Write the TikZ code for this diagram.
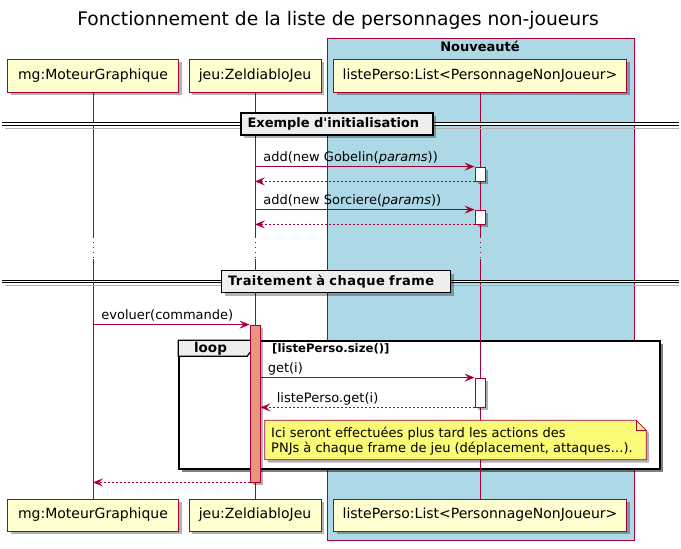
\documentclass[tikz,border=0pt]{standalone}
\usepackage{fontspec}
\setmainfont{DejaVu Sans}
\usetikzlibrary{arrows.meta,shadows,calc}
\definecolor{pumlred}{HTML}{A80036}
\definecolor{pumlyellow}{HTML}{FEFECE}
\definecolor{pumlblue}{HTML}{ADD8E6}
\definecolor{pumlnote}{HTML}{FBFB77}
\definecolor{pumlgray}{HTML}{EEEEEE}
\definecolor{pumlsalmon}{HTML}{E9967A}
\tikzset{
  shad/.style={drop shadow={shadow xshift=3pt,shadow yshift=-3pt,opacity=0.3,fill=black}},
  part/.style={draw=pumlred, fill=pumlyellow, line width=0.9pt, minimum height=33pt, inner sep=0pt,
    font=\fontsize{14}{16}\selectfont, shad},
  life/.style={draw=pumlred, line width=0.8pt},
  delay/.style={draw=pumlred, line width=0.8pt, dash pattern=on 1pt off 4pt},
  msg/.style={draw=pumlred, line width=0.8pt, -{Stealth[length=10pt,width=8pt,inset=4pt]}},
  ret/.style={msg, dash pattern=on 2pt off 2pt},
  lbl/.style={font=\fontsize{13}{15}\selectfont, anchor=base west, inner sep=0pt},
  act/.style={draw=pumlred, fill=white, line width=0.8pt, minimum width=10pt, inner sep=0pt, shad},
  sepbox/.style={draw=black, fill=pumlgray, line width=1.3pt, minimum height=22pt, inner xsep=6.5pt, inner ysep=0pt,
    align=left, font=\bfseries\fontsize{13}{15}\selectfont, shad},
  sepline/.style={draw=black, line width=0.9pt, double=white, double distance=1.8pt},
}
\begin{document}
\begin{tikzpicture}[x=1pt,y=-1pt]
\useasboundingbox (0,0) rectangle (681,549);
\fill[white] (0,0) rectangle (681,549);
% title
\node[font=\fontsize{18.7}{21}\selectfont] (title) at (338,20) {Fonctionnement de la liste de personnages non-joueurs};
% box
\draw[pumlred, fill=pumlblue, line width=0.9pt] (327,38) rectangle (634,540);
\node[font=\bfseries\fontsize{13}{15}\selectfont] (boxlbl) at (480,46) {Nouveauté};
% loop frame background
\node[draw=black, fill=white, line width=1.6pt, minimum width=481pt, minimum height=128pt, inner sep=0pt,
  drop shadow={shadow xshift=3pt,shadow yshift=-3pt,opacity=0.5,fill=black}] (loopF) at (419.5,405) {};
% participants
\node[part, minimum width=171pt] (mgT) at (93,75.5) {mg:MoteurGraphique};
\node[part, minimum width=132pt] (jeuT) at (255,75.5) {jeu:ZeldiabloJeu};
\node[part, minimum width=293pt] (lstT) at (480,75.5) {listePerso:List<PersonnageNonJoueur>};
\node[part, minimum width=171pt, minimum height=32pt] (mgB) at (93,515) {mg:MoteurGraphique};
\node[part, minimum width=132pt, minimum height=32pt] (jeuB) at (255,515) {jeu:ZeldiabloJeu};
\node[part, minimum width=293pt, minimum height=32pt] (lstB) at (480,515) {listePerso:List<PersonnageNonJoueur>};
% delay coordinates
\coordinate (mgd1) at (93,237); \coordinate (mgd2) at (93,259);
\coordinate (jeud1) at (255,237); \coordinate (jeud2) at (255,259);
\coordinate (lstd1) at (480,237); \coordinate (lstd2) at (480,259);
% lifelines
\draw[life] (mgT.south) -- (mgd1); \draw[delay] (mgd1) -- (mgd2); \draw[life] (mgd2) -- (mgB.north);
\draw[life] (jeuT.south) -- (jeud1); \draw[delay] (jeud1) -- (jeud2); \draw[life] (jeud2) -- (jeuB.north);
\draw[life] (lstT.south) -- (lstd1); \draw[delay] (lstd1) -- (lstd2); \draw[life] (lstd2) -- (lstB.north);
% separators
\coordinate (s1a) at (2,124); \coordinate (s1b) at (679,124);
\coordinate (s2a) at (2,281.5); \coordinate (s2b) at (679,281.5);
\draw[black!30, line width=1pt] ($(s1a)+(3,4)$) -- ($(s1b)+(0,4)$);
\draw[black!30, line width=1pt] ($(s2a)+(3,4)$) -- ($(s2b)+(0,4)$);
\draw[sepline] (s1a) -- (s1b);
\draw[sepline] (s2a) -- (s2b);
\node[sepbox, text width=179pt] (sep1) at (337,124) {Exemple d\textquotesingle initialisation};
\node[sepbox, text width=216pt] (sep2) at (336,281.5) {\pgfmathsetmacro\seplsp{(209-width("Traitement à chaque frame"))/24/13*100}\addfontfeatures{LetterSpace=\seplsp}Traitement à chaque frame};
% activations
\node[act, minimum height=14pt] (a1) at (480,174) {};
\node[act, minimum height=14pt] (a2) at (480,217) {};
\node[act, minimum height=29pt] (a4) at (480,392.5) {};
% messages initialisation
\draw[msg] (a1.north west -| jeuT) -- (a1.north west)
  node[lbl, pos=0, xshift=8pt, yshift=5pt] {add(new Gobelin(\textit{params}))};
\draw[ret] (a1.south west) -- (a1.south west -| jeuT);
\draw[msg] (a2.north west -| jeuT) -- (a2.north west)
  node[lbl, pos=0, xshift=8pt, yshift=5pt] {add(new Sorciere(\textit{params}))};
\draw[ret] (a2.south west) -- (a2.south west -| jeuT);
% loop tab
\draw[black, fill=pumlgray, line width=1.2pt] (loopF.north west) -- ++(78,0) -- ++(0,4) -- ++(-9,12) -- ($(loopF.north west)+(0,16)$) -- cycle;
\node[font=\bfseries\fontsize{13.5}{15}\selectfont, inner sep=0pt] (looplbl) at (210.5,349) {loop};
\node[font=\bfseries\fontsize{11.7}{13}\selectfont, anchor=west, inner sep=0pt] (guard) at (272,349) {[listePerso.size()]};
% jeu activation
\node[act, fill=pumlsalmon, minimum height=157pt] (a3) at (255,403.5) {};
% messages traitement
\draw[msg] (a3.north west -| mgT) -- (a3.north west)
  node[lbl, pos=0, xshift=8pt, yshift=5pt] {evoluer(commande)};
\draw[msg] (a4.north west -| a3.east) -- (a4.north west)
  node[lbl, pos=0, xshift=7pt, yshift=5pt] {get(i)};
\draw[ret] (a4.south west) -- (a4.south west -| a3.east)
  node[lbl, pos=1, xshift=16pt, yshift=5pt] {listePerso.get(i)};
\draw[ret] (a3.south west) -- (a3.south west -| mgT);
% note
\node[minimum width=381pt, minimum height=39pt, inner xsep=6pt, inner ysep=0pt, text width=369pt, align=left,
  font=\fontsize{13}{14.5}\selectfont] (note) at (455.5,440) {};
\fill[black, opacity=0.3] ($(note.north west)+(3,3)$) -- ($(note.north east)+(-7,3)$) -- ($(note.north east)+(3,13)$) -- ($(note.south east)+(3,3)$) -- ($(note.south west)+(3,3)$) -- cycle;
\draw[pumlred, fill=pumlnote, line width=0.8pt] (note.north west) -- ($(note.north east)+(-10,0)$) -- ($(note.north east)+(0,10)$) -- (note.south east) -- (note.south west) -- cycle;
\draw[pumlred, line width=0.8pt] ($(note.north east)+(-10,0)$) -- ($(note.north east)+(-10,10)$) -- ($(note.north east)+(0,10)$);
\node[font=\fontsize{13}{14.5}\selectfont, align=left, anchor=west, inner sep=0pt] (notetxt) at (271,441) {Ici seront effectuées plus tard les actions des\\PNJs à chaque frame de jeu (déplacement, attaques…).};
\end{tikzpicture}
\end{document}
